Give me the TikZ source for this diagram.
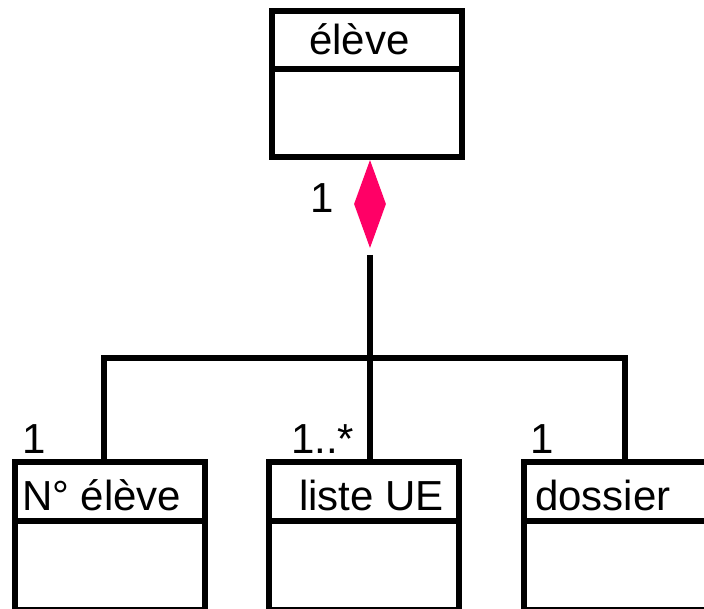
\documentclass[tikz,border=0pt]{standalone}
\usepackage{fontspec}
\setmainfont{Liberation Sans}
\usetikzlibrary{shapes.geometric}
\tikzset{
  box/.style={draw=black, line width=6pt},
  conn/.style={draw=black, line width=6pt},
  lbl/.style={inner sep=0pt, anchor=base west, font=\fontsize{42}{48}\selectfont},
  comp/.style={diamond, fill=compcol, draw=none, inner sep=0pt, minimum width=32pt, minimum height=88pt}
}
\definecolor{compcol}{HTML}{FF0066}
\begin{document}
\begin{tikzpicture}[x=1pt,y=-1pt]
\useasboundingbox (0,0) rectangle (704,609);
\clip (0,0) rectangle (704,609);
\fill[white] (0,0) rectangle (704,609);
% top class
\draw[box] (272,11) rectangle (462,157);
\draw[box] (272,69) -- (462,69);
\node[lbl] (televe) at (309,55) {élève};
% bottom classes
\draw[box] (15,462) rectangle (205,610);
\draw[box] (15,520.5) -- (205,520.5);
\node[lbl] (tnum) at (22,510) {N° élève};
\draw[box] (269,462) rectangle (458.5,610);
\draw[box] (269,520.5) -- (458.5,520.5);
\node[lbl] (tliste) at (299,510) {liste UE};
\draw[box] (523.5,462) rectangle (730,610);
\draw[box] (523.5,520.5) -- (730,520.5);
\node[lbl] (tdos) at (535,510) {dossier};
% composition diamond
\node[comp] (dia) at (370,204) {};
\node[lbl] (m0) at (310,213) {1};
% connector coordinates
\coordinate (start) at (370,255);
\coordinate (mid) at (370,358.5);
\coordinate (lcorner) at (104,358.5);
\coordinate (rcorner) at (624.5,358.5);
\coordinate (ltop) at (104,462);
\coordinate (mtop) at (370,462);
\coordinate (rtop) at (624.5,462);
\draw[conn] (start) -- (mtop);
\draw[conn] (ltop) -- (lcorner) -- (rcorner) -- (rtop);
% multiplicities
\node[lbl] (m1) at (22,453) {1};
\node[lbl] (m2) at (291,453) {1..*};
\node[lbl] (m3) at (530,453) {1};
\end{tikzpicture}
\end{document}
